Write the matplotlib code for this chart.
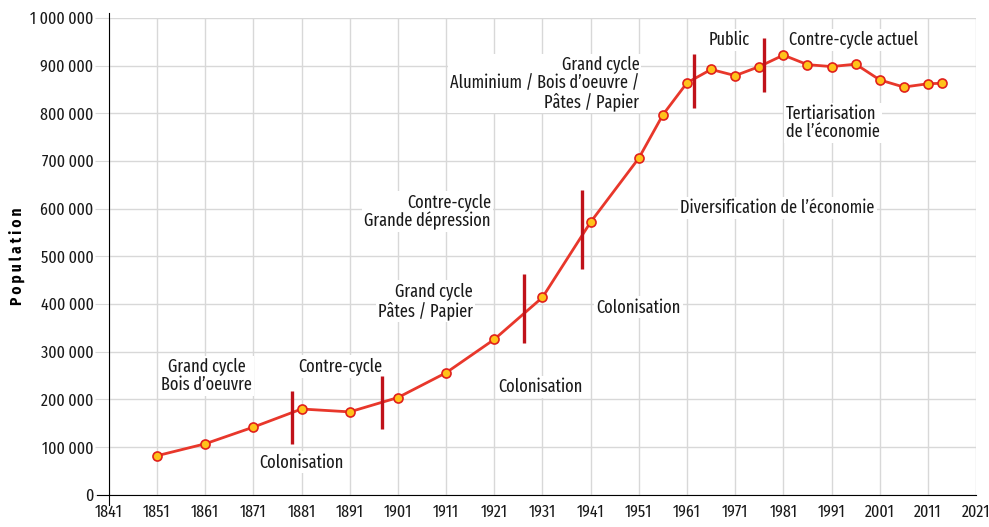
import matplotlib
matplotlib.use("Agg")
import matplotlib.pyplot as plt
from matplotlib.ticker import FuncFormatter

# population data
years = [1851, 1861, 1871, 1881, 1891, 1901, 1911, 1921, 1931, 1941, 1951,
         1956, 1961, 1966, 1971, 1976, 1981, 1986, 1991, 1996, 2001, 2006,
         2011, 2014]
population = [82000, 107000, 142000, 180000, 174000, 204000, 256000, 326000,
              414000, 572000, 706000, 797000, 864000, 892000, 879000, 898000,
              922000, 902000, 898000, 903000, 870000, 855000, 862000, 863000]

# period boundaries: year, bottom, top
break_years = [1879, 1897.7, 1927.2, 1939.3, 1962.4, 1976.9]
break_low = [106000, 139000, 319000, 474000, 812000, 845000]
break_high = [217000, 250000, 463000, 639000, 924000, 957000]

# annotations: text, year, value, alignment
labels = [
    ("Grand cycle\nBois d\u2019oeuvre", 1861.3, 249000, "center"),
    ("Colonisation", 1881.0, 68000, "center"),
    ("Contre-cycle", 1889.0, 269000, "center"),
    ("Grand cycle\nPâtes / Papier", 1916.6, 406000, "right"),
    ("Contre-cycle\nGrande dépression", 1920.3, 593000, "right"),
    ("Colonisation", 1930.5, 227000, "center"),
    ("Colonisation", 1950.9, 393000, "center"),
    ("Grand cycle\nAluminium / Bois d\u2019oeuvre /\nPâtes / Papier",
     1951.1, 863000, "right"),
    ("Public", 1969.8, 954000, "center"),
    ("Contre-cycle actuel", 1995.5, 954000, "center"),
    ("Tertiarisation\nde l\u2019économie", 1981.5, 780000, "left"),
    ("Diversification de l\u2019économie", 1979.8, 601000, "center"),
]

FONT = ["Fira Sans Extra Condensed", "DejaVu Sans"]
plt.rcParams["font.family"] = FONT

fig = plt.figure(figsize=(9.89, 5.27), dpi=100)
ax = fig.add_axes([0.110, 0.061, 0.877, 0.905])

ax.plot(years, population, "-", color="#e8372b", linewidth=2, zorder=3,
        marker="o", markersize=6.5, markerfacecolor="#ffc21a",
        markeredgecolor="#e0201b", markeredgewidth=1.2)
ax.vlines(break_years, break_low, break_high, color="#c0121a", linewidth=2.4,
          zorder=4)

for txt, x, y, al in labels:
    ax.text(x, y, txt, ha=al, va="center", multialignment=al, fontsize=12.8,
            color="#1a1a1a", linespacing=1.0, zorder=2,
            bbox=dict(facecolor="white", edgecolor="none", pad=1.5))

ax.set_xlim(1841, 2021)
ax.set_ylim(0, 1000000)
ax.set_xticks(range(1841, 2022, 10))
ax.set_yticks(range(0, 1000001, 100000))
ax.yaxis.set_major_formatter(
    FuncFormatter(lambda v, _: f"{int(v):,}".replace(",", "\u2009")))
ax.grid(True, color="#d8d8d8", linewidth=1, zorder=0)
ax.set_axisbelow(True)

for s in ("top", "right"):
    ax.spines[s].set_visible(False)
ax.spines["left"].set_bounds(-22000, 1010000)
ax.spines["bottom"].set_bounds(1838.5, 2021)
ax.tick_params(axis="y", length=10, color="#d8d8d8", labelsize=12.5,
               labelcolor="#1a1a1a", pad=1)
ax.tick_params(axis="x", length=0, labelsize=12.5, labelcolor="#1a1a1a", pad=7)

ax.set_ylabel("P\u2009o\u2009p\u2009u\u2009l\u2009a\u2009t\u2009i\u2009o\u2009n",
              fontsize=11, fontweight="bold",
              family=["Fira Sans Condensed", "DejaVu Sans"])
ax.yaxis.set_label_coords(-0.097, 0.5)

fig.savefig("out.png", dpi=100)
